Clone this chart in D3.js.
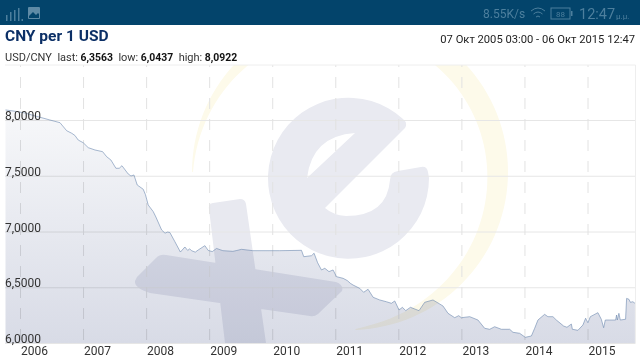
<!DOCTYPE html>
<html>
<head>
<meta charset="utf-8">
<script src="https://cdnjs.cloudflare.com/ajax/libs/d3/7.8.5/d3.min.js"></script>
<style>
html,body{margin:0;padding:0;background:#fff;overflow:hidden}
svg{display:block;isolation:isolate;background:#fff}
text{font-family:Roboto,sans-serif}
</style>
</head>
<body>
<svg id="c" width="640" height="360"></svg>
<script>
const title = "CNY per 1 USD";
const dateRange = "07 Окт 2005 03:00 - 06 Окт 2015 12:47";
const pairName = "USD/CNY";
const statLabels = ["last:", "low:", "high:"];
const statValues = ["6,3563", "6,0437", "8,0922"];
const yearTicks = [2006,2007,2008,2009,2010,2011,2012,2013,2014,2015];
const rateTicks = [6,6.5,7,7.5,8];
const years = [2005.77,2005.905,2006.08,2006.24,2006.38,2006.475,2006.634,2006.74,2006.82,2006.87,2006.924,2007.003,2007.082,2007.189,2007.31,2007.374,2007.442,2007.521,2007.574,2007.617,2007.716,2007.76,2007.807,2007.859,2007.954,2007.99,2008.033,2008.113,2008.155,2008.246,2008.30,2008.34,2008.377,2008.456,2008.544,2008.615,2008.66,2008.69,2008.72,2008.78,2008.826,2008.932,2008.985,2009.05,2009.117,2009.217,2009.376,2009.44,2009.513,2009.693,2010.12,2010.464,2010.5,2010.623,2010.664,2010.72,2010.781,2010.834,2010.90,2010.965,2011.019,2011.124,2011.19,2011.24,2011.282,2011.388,2011.45,2011.52,2011.6,2011.705,2011.811,2011.89,2011.943,2012.011,2012.065,2012.117,2012.192,2012.328,2012.418,2012.55,2012.708,2012.788,2012.894,2012.957,2013.0,2013.132,2013.263,2013.369,2013.449,2013.528,2013.634,2013.766,2013.818,2013.924,2014.014,2014.11,2014.162,2014.214,2014.32,2014.372,2014.452,2014.506,2014.622,2014.674,2014.744,2014.76,2014.848,2014.927,2014.97,2015.006,2015.045,2015.165,2015.219,2015.256,2015.282,2015.35,2015.446,2015.461,2015.473,2015.498,2015.52,2015.604,2015.62,2015.657,2015.68,2015.72,2015.752];
const rates = [8.09,8.08,8.063,8.036,8.015,8.0,7.976,7.904,7.881,7.862,7.82,7.796,7.752,7.731,7.716,7.671,7.641,7.567,7.567,7.59,7.516,7.498,7.507,7.417,7.379,7.33,7.238,7.178,7.13,7.014,6.985,6.995,6.991,6.909,6.816,6.861,6.83,6.845,6.828,6.815,6.834,6.873,6.83,6.82,6.848,6.828,6.822,6.83,6.84,6.828,6.828,6.831,6.774,6.783,6.805,6.72,6.655,6.67,6.64,6.655,6.595,6.58,6.56,6.535,6.52,6.49,6.455,6.482,6.41,6.386,6.37,6.356,6.377,6.296,6.32,6.29,6.32,6.29,6.365,6.386,6.332,6.266,6.227,6.245,6.227,6.236,6.206,6.132,6.123,6.146,6.123,6.123,6.096,6.087,6.051,6.063,6.132,6.206,6.257,6.236,6.236,6.206,6.152,6.141,6.17,6.123,6.114,6.161,6.222,6.182,6.236,6.272,6.213,6.137,6.206,6.206,6.206,6.251,6.206,6.266,6.206,6.213,6.40,6.392,6.365,6.37,6.3563];

const svg = d3.select("#c");
const L = 5, R = 635.5, T = 65, B = 343;
const x = d3.scaleLinear().domain([2006, 2015]).range([20, 587.5]);
const y = d3.scaleLinear().domain([6, 8]).range([B, 120]);

const defs = svg.append("defs");
defs.append("clipPath").attr("id","plot").append("rect").attr("x",L).attr("y",T).attr("width",R-L).attr("height",B-T);
const grad = defs.append("linearGradient").attr("id","areaFill").attr("gradientUnits","userSpaceOnUse")
  .attr("x1",0).attr("x2",0).attr("y1",110).attr("y2",B);
grad.append("stop").attr("offset",0).attr("stop-color","#f7f8fa");
grad.append("stop").attr("offset",1).attr("stop-color","#d8dbe6");

// watermark
const wm = svg.append("g").attr("clip-path","url(#plot)");
const ringOut = [], ringIn = [];
const cx = 350, cy = 172;
d3.range(0, 1.0001, 0.01).forEach(t => {
  const a = (88 - t * 268) * Math.PI / 180;
  const w = 1 + 21 * Math.sin(Math.PI * Math.pow(t, 0.85));
  ringOut.push([cx + 158 * Math.cos(a), cy + 158 * Math.sin(a)]);
  ringIn.push([cx + (158 - w) * Math.cos(a), cy + (158 - w) * Math.sin(a)]);
});
wm.append("path").attr("fill","#fdfaea").attr("d", d3.line()(ringOut.concat(ringIn.reverse())) + "Z");
wm.append("path").attr("fill","#e9eaf1").attr("fill-rule","evenodd").attr("d",
  "M403 119 A80.5 80.5 0 1 0 429 178 L428 172 Q427 166 421 167 L398 171 Q390 172 390 180 Q387 216 346 216 Q333 215 325 208 L405 128 Q408 123 403 119 Z " +
  "M355 133 Q312 136 307 178 Z");
// plus sign: two overlapping bars in one path, so the overlap does not darken
wm.append("path").attr("fill","#e8e9f0").attr("fill-rule","nonzero").attr("d",
  "M209 209 Q208 204 213 203 L240 199 Q245 199 246 204 L266 343 L225 343 Z " +
  "M137 277 L156 258 Q160 254 166 255 L336 282 Q344 285 342 291 L318 314 Q314 317 310 316 L150 293 Q134 288 135 281 Z");

// grid
const gy = svg.append("g").attr("transform",`translate(${L},0)`)
  .call(d3.axisRight(y).tickValues(rateTicks).tickSize(R-L).tickFormat(""));
gy.select(".domain").remove();
gy.selectAll("line").attr("stroke","#e6e6e6").attr("stroke-width",1);
const gx = svg.append("g").attr("transform",`translate(0,${T})`)
  .call(d3.axisBottom(x).tickValues(yearTicks).tickSize(B-T).tickFormat(""));
gx.select(".domain").remove();
gx.selectAll("line").attr("stroke","#e2e2e2").attr("stroke-width",1).attr("stroke-dasharray","11,10").attr("stroke-dashoffset",9);
svg.append("line").attr("x1",L).attr("x2",R).attr("y1",T).attr("y2",T).attr("stroke","#eeeeee");
svg.append("line").attr("x1",R).attr("x2",R).attr("y1",T).attr("y2",B).attr("stroke","#eeeeee");

// series
const pts = years.map((d,i)=>[d,rates[i]]);
svg.append("path").datum(pts).attr("fill","url(#areaFill)").style("mix-blend-mode","multiply")
  .attr("d", d3.area().x(d=>x(d[0])).y0(B).y1(d=>y(d[1])));
svg.append("path").datum(pts).attr("fill","none").attr("stroke","#6b88ae").attr("stroke-width",0.6)
  .attr("d", d3.line().x(d=>x(d[0])).y(d=>y(d[1])));

// axis labels
const ax = svg.append("g").attr("transform",`translate(0,${B})`)
  .call(d3.axisBottom(x).tickValues(yearTicks).tickSize(0).tickFormat(d3.format("d")));
ax.select(".domain").remove();
ax.selectAll("text").attr("text-anchor","start").attr("x",0).attr("dx",0.5).attr("dy",0).attr("y",12)
  .style("font-family","Roboto,sans-serif").style("font-size","12px").attr("fill","#333");
const ay = svg.append("g").attr("transform",`translate(${L},0)`)
  .call(d3.axisRight(y).tickValues(rateTicks).tickSize(0).tickFormat(d=>d3.format(".4f")(d).replace(".",",")));
ay.select(".domain").remove();
ay.selectAll("text").attr("x",0).attr("dy",0).attr("y",-0.5)
  .style("font-family","Roboto,sans-serif").style("font-size","12px").attr("fill","#333");

// status bar
svg.append("rect").attr("width",640).attr("height",25).attr("fill","#03446b");
const sc = "#4d7f9d";
const sb = svg.append("g");
[[6,15,6],[10,12,9],[14,10,11],[18,8,13]].forEach(b=>sb.append("rect").attr("x",b[0]).attr("y",b[1]).attr("width",1.5).attr("height",b[2]).attr("fill",sc));
sb.append("rect").attr("x",21.5).attr("y",19).attr("width",1.5).attr("height",2).attr("fill",sc);
sb.append("rect").attr("x",28).attr("y",7).attr("width",12).attr("height",12).attr("rx",1).attr("fill","#5f8ba6");
sb.append("path").attr("d","M29 16 L33 12 L36 15 L38 13 L39 14 L39 18 L29 18Z").attr("fill","#03446b");
sb.append("text").attr("x",483).attr("y",18).attr("font-size",12).attr("fill",sc).text("8.55K/s");
sb.append("path").attr("d","M531 11 Q538 5 545 11 M533.5 14 Q538 10 542.5 14 M536 17 Q538 15 540 17").attr("fill","none").attr("stroke",sc).attr("stroke-width",1);
sb.append("rect").attr("x",551).attr("y",8).attr("width",19).attr("height",11).attr("fill","none").attr("stroke",sc);
sb.append("rect").attr("x",571).attr("y",11).attr("width",1.5).attr("height",5).attr("fill",sc);
sb.append("text").attr("x",560.5).attr("y",16.5).attr("font-size",8).attr("text-anchor","middle").attr("fill",sc).text("88");
sb.append("text").attr("x",579).attr("y",19).attr("font-size",14.5).attr("fill",sc).text("12:47");
sb.append("text").attr("x",616).attr("y",19).attr("font-size",8).attr("fill",sc).text("μ.μ.");

// header
svg.append("text").attr("x",5).attr("y",41).attr("font-size",15.5).attr("font-weight",700).attr("fill","#0b2f66").text(title);
svg.append("text").attr("x",635).attr("y",43).attr("font-size",11.2).attr("text-anchor","end").attr("fill","#222").text(dateRange);
const sub = svg.append("text").attr("x",5).attr("y",61).attr("font-size",11).attr("fill","#333");
sub.append("tspan").text(pairName);
statLabels.forEach((l,i)=>{
  sub.append("tspan").attr("dx",5.5).text(l);
  sub.append("tspan").attr("dx",2.5).attr("font-size",10.4).attr("font-weight",700).attr("fill","#111").text(statValues[i]);
});
</script>
</body>
</html>
